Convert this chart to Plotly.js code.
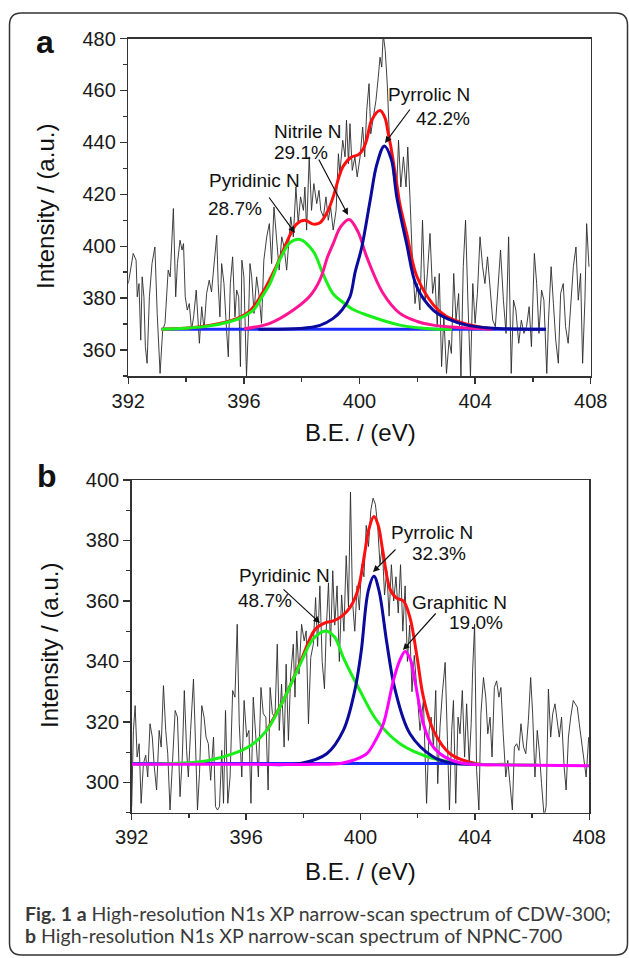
<!DOCTYPE html>
<html>
<head>
<meta charset="utf-8">
<script src="https://cdn.plot.ly/plotly-3.0.1.min.js"></script>
<style>
html,body{margin:0;padding:0;background:#fff;}
#chart{width:629px;height:958px;}
</style>
</head>
<body>
<div id="chart"></div>
<script>
// ---------- Tick labels ----------
const xTickVals = [392, 396, 400, 404, 408];
const yTickValsA = [360, 380, 400, 420, 440, 460, 480];
const yTickValsB = [300, 320, 340, 360, 380, 400];

// ---------- Panel a : raw spectrum ----------
const aNoiseX = [392.00,392.17,392.27,392.31,392.37,392.43,392.48,392.54,392.59,392.65,392.73,392.82,392.92,393.00,393.10,393.19,393.27,393.38,393.45,393.56,393.64,393.70,393.79,393.86,393.91,393.97,394.04,394.11,394.19,394.26,394.35,394.46,394.54,394.62,394.71,394.80,394.88,394.96,395.06,395.11,395.17,395.23,395.31,395.40,395.46,395.53,395.61,395.69,395.75,395.82,395.88,395.93,396.00,396.09,396.15,396.21,396.27,396.35,396.44,396.53,396.61,396.69,396.79,396.88,396.96,397.04,397.13,397.22,397.31,397.39,397.48,397.54,397.62,397.71,397.80,397.88,397.96,398.06,398.11,398.17,398.26,398.34,398.42,398.52,398.60,398.66,398.75,398.84,398.92,399.00,399.09,399.19,399.27,399.32,399.42,399.50,399.55,399.62,399.67,399.75,399.84,399.92,400.02,400.11,400.18,400.25,400.33,400.39,400.48,400.57,400.65,400.71,400.77,400.82,400.89,400.96,401.03,401.11,401.19,401.28,401.35,401.43,401.52,401.61,401.67,401.75,401.83,401.92,402.00,402.09,402.18,402.27,402.35,402.44,402.53,402.61,402.69,402.76,402.84,402.92,403.01,403.10,403.18,403.26,403.34,403.43,403.51,403.59,403.67,403.75,403.84,403.92,404.00,404.08,404.17,404.26,404.34,404.43,404.51,404.61,404.70,404.79,404.88,404.98,405.07,405.16,405.25,405.33,405.41,405.51,405.60,405.69,405.78,405.87,405.95,406.05,406.13,406.21,406.30,406.38,406.48,406.54,406.63,406.71,406.79,406.88,406.96,407.05,407.13,407.22,407.30,407.40,407.49,407.57,407.65,407.72,407.80,407.86,407.94];
const aNoiseY = [385.6,397.2,394.6,380.5,385.6,363.8,388.2,380.5,361.3,354.9,380.5,393.3,399.7,374.1,351.0,367.7,370.3,390.8,388.2,414.5,380.5,393.3,402.3,398.5,401.0,380.5,375.4,377.9,367.7,372.8,383.1,362.6,376.7,367.7,381.8,386.9,382.4,393.3,404.2,385.6,372.8,393.3,385.6,367.7,357.4,385.6,395.9,372.8,383.1,380.5,353.6,394.6,388.2,350.0,367.7,393.3,388.2,374.1,388.2,380.5,370.3,394.6,403.6,408.7,393.3,415.1,401.0,390.8,403.6,399.7,390.8,401.0,411.3,403.6,422.8,408.7,419.0,413.8,422.8,406.2,434.4,413.8,424.1,416.4,421.5,413.8,411.3,419.0,410.0,415.1,406.2,413.8,435.6,427.9,440.8,434.4,448.5,431.8,447.2,429.2,434.4,426.7,434.4,445.9,434.4,452.3,462.6,443.3,449.7,456.2,465.1,472.8,469.0,481.8,475.4,462.6,443.3,435.6,425.4,420.3,440.8,422.8,434.4,422.8,438.2,417.7,394.6,377.9,385.6,375.4,410.0,379.2,389.5,404.9,381.8,388.2,369.0,389.5,353.6,372.8,351.0,363.8,358.7,389.5,371.5,381.8,350.0,392.1,410.0,379.2,350.0,385.6,370.3,381.8,403.6,392.1,385.6,395.9,384.4,371.5,369.0,384.4,398.5,379.2,366.4,403.6,351.0,379.2,375.4,362.6,371.5,366.4,369.0,376.7,361.3,397.2,385.6,366.4,383.1,379.2,351.0,371.5,392.1,377.9,363.8,354.9,381.8,385.6,369.0,362.6,375.4,392.1,399.7,379.2,389.5,354.9,379.2,408.7,392.1];

// ---------- Panel a : fitted components ----------
const aBaseX = [393.15, 406.45];
const aBaseY = [368.0, 368.0];
const aPyridX = [393.15,394.0,394.8,395.5,396.0,396.33,396.6,396.9,397.25,397.6,397.94,398.4,398.75,399.1,399.44,399.8,400.25,401.4,402.55,403.2];
const aPyridY = [368.0,368.4,369.3,370.9,373.0,375.4,380.0,385.6,395.0,401.4,402.6,398.0,389.0,381.5,378.3,375.5,373.5,369.6,368.1,368.0];
const aNitrX = [396.0,396.9,397.71,398.3,398.63,398.9,399.09,399.35,399.64,399.95,400.25,400.82,401.4,402.0,402.55,403.2,403.94,404.6];
const aNitrY = [368.2,370.3,375.4,381.0,387.0,396.0,401.0,407.5,410.3,405.5,395.9,381.8,374.1,371.0,369.6,368.9,368.4,368.0];
const aPyrrX = [396.5,397.94,398.63,399.09,399.4,399.67,399.85,400.08,400.37,400.6,400.86,401.1,401.29,401.63,401.98,402.55,403.1,403.71,404.5,405.5,406.45];
const aPyrrY = [368.0,368.3,369.5,372.2,375.5,380.5,390.0,399.7,417.7,431.5,438.6,433.5,419.0,401.0,384.4,375.4,371.8,369.6,368.5,368.1,368.0];
const aSumX = [393.15,394.5,395.6,396.2,396.67,397.13,397.48,397.82,398.11,398.4,398.63,398.9,399.09,399.42,399.7,399.98,400.13,400.25,400.42,400.71,400.88,401.0,401.09,401.29,401.4,401.63,401.98,402.55,403.0,403.71,404.6];
const aSumY = [368.0,369.0,371.5,375.0,382.5,392.5,401.5,408.5,410.0,408.5,409.0,413.5,419.0,430.5,434.2,435.3,437.5,441.0,448.5,452.3,449.5,443.0,438.0,424.0,416.0,405.0,388.5,377.5,373.0,370.0,368.2];

// ---------- Panel b : raw spectrum ----------
const bNoiseX = [392.00,392.06,392.12,392.19,392.26,392.33,392.41,392.49,392.56,392.64,392.72,392.79,392.87,392.96,393.03,393.11,393.19,393.26,393.34,393.42,393.52,393.60,393.69,393.77,393.84,393.92,393.98,394.06,394.16,394.21,394.30,394.37,394.45,394.53,394.60,394.68,394.76,394.86,394.93,395.00,395.07,395.15,395.21,395.28,395.36,395.44,395.53,395.61,395.69,395.76,395.85,395.93,396.02,396.10,396.17,396.25,396.34,396.43,396.52,396.60,396.69,396.77,396.84,396.92,397.01,397.09,397.16,397.24,397.33,397.40,397.48,397.56,397.65,397.71,397.77,397.85,397.94,398.03,398.10,398.18,398.26,398.35,398.43,398.50,398.58,398.66,398.74,398.80,398.88,398.95,399.03,399.10,399.18,399.26,399.34,399.42,399.50,399.58,399.65,399.72,399.80,399.88,399.96,400.04,400.12,400.20,400.28,400.36,400.44,400.52,400.60,400.68,400.76,400.84,400.92,401.00,401.08,401.16,401.24,401.32,401.40,401.48,401.56,401.64,401.72,401.80,401.88,401.96,402.08,402.20,402.31,402.40,402.47,402.55,402.63,402.70,402.78,402.86,402.96,403.04,403.11,403.19,403.25,403.33,403.41,403.48,403.56,403.64,403.71,403.80,403.87,403.92,403.99,404.06,404.14,404.21,404.30,404.38,404.45,404.53,404.60,404.68,404.76,404.84,404.91,404.99,405.08,405.15,405.23,405.31,405.38,405.46,405.54,405.61,405.70,405.78,405.87,405.95,406.02,406.10,406.18,406.25,406.33,406.42,406.49,406.57,406.65,406.72,406.80,406.88,406.95,407.03,407.12,407.19,407.27,407.35,407.44,407.51,407.58,407.65,407.73,407.82,407.89,407.98];
const bNoiseY = [292.0,317.2,325.4,308.4,312.8,293.1,306.2,309.0,301.8,319.4,315.0,305.1,297.5,317.2,311.7,332.0,317.2,309.5,290.9,306.2,323.8,321.6,295.3,308.4,330.4,310.6,301.8,317.2,334.2,319.4,290.9,302.9,325.4,321.6,315.0,312.8,300.7,315.0,292.0,290.9,292.0,310.6,293.1,323.8,293.1,301.8,330.4,328.2,352.3,319.4,301.8,327.1,315.0,317.2,293.1,328.2,312.8,301.8,331.4,322.7,321.6,297.5,331.4,322.7,321.6,345.7,317.2,332.5,311.7,339.1,313.9,335.8,345.7,328.2,350.1,335.8,352.3,346.8,350.1,319.4,341.3,345.7,361.1,345.0,365.0,340.0,331.0,350.0,366.0,345.0,370.0,352.0,365.0,340.0,362.0,350.0,375.0,358.0,396.0,360.0,350.0,365.0,357.0,372.0,368.0,385.0,378.0,390.0,394.0,392.0,385.0,372.0,378.0,362.0,370.0,355.0,372.0,360.0,368.0,356.0,372.0,350.0,365.0,340.0,352.0,330.0,342.0,332.5,317.2,327.1,293.1,317.2,321.6,311.7,330.4,299.6,318.3,329.3,339.7,313.9,290.9,317.2,327.1,293.1,321.6,316.1,330.4,308.4,326.0,306.2,319.4,336.9,352.3,304.0,290.9,322.7,334.7,328.2,316.1,321.6,308.4,331.4,333.6,328.2,331.4,316.1,301.8,307.3,297.5,290.9,311.7,312.8,310.6,319.4,311.7,309.5,320.5,334.7,322.7,301.8,317.2,310.6,299.6,288.7,292.0,330.9,315.0,322.7,326.0,319.4,315.0,321.6,305.1,297.5,315.0,321.6,327.1,326.0,324.9,319.4,313.9,308.4,301.8,315.0];

// ---------- Panel b : fitted components ----------
const bBaseX = [392.0, 403.5];
const bBaseY = [306.3, 306.3];
const bPyridX = [392.0,393.2,394.6,395.55,396.2,396.72,397.3,397.89,398.35,398.8,399.1,399.4,399.98,400.57,401.38,402.55,403.71,405.0,406.2];
const bPyridY = [306.0,306.2,307.1,309.5,312.5,317.2,327.1,339.1,347.5,350.1,348.0,341.3,330.4,320.5,312.8,307.9,306.2,305.9,305.8];
const bPyrrX = [396.5,397.9,398.82,399.4,399.8,400.02,400.27,400.47,400.65,400.91,401.2,401.73,402.55,403.13,404.0];
const bPyrrY = [306.0,306.3,309.5,317.2,330.4,343.0,363.3,368.2,363.3,346.8,331.0,316.1,308.4,306.5,306.0];
const bGraphX = [392.0,396.0,398.5,399.3,399.8,400.22,400.5,400.8,401.15,401.38,401.56,401.75,401.9,402.2,402.45,402.78,403.2,403.75,405.0,408.0];
const bGraphY = [306.0,306.0,306.0,306.3,307.5,309.5,313.5,319.4,333.7,340.5,343.3,340.5,333.7,319.4,313.0,309.5,307.3,306.1,305.8,305.5];
const bSumX = [396.72,397.3,397.89,398.41,398.76,399.05,399.35,399.63,399.85,399.98,400.15,400.3,400.47,400.62,400.78,401.03,401.25,401.5,401.73,401.98,402.2,402.55,403.13,404.06,405.0];
const bSumY = [317.2,327.1,339.6,350.6,352.8,353.4,355.0,357.8,362.0,366.5,376.0,384.0,387.9,385.0,376.5,364.0,361.0,360.0,354.5,341.3,328.2,317.2,309.5,306.2,306.0];

// ---------- Peak labels ----------
const aLabels = ["Pyridinic N", "28.7%", "Nitrile N", "29.1%", "Pyrrolic N", "42.2%"];
const bLabels = ["Pyridinic N", "48.7%", "Pyrrolic N", "32.3%", "Graphitic N", "19.0%"];
const captionLine1 = "<b>Fig. 1 a</b> High-resolution N1s XP narrow-scan spectrum of CDW-300;";
const captionLine2 = "<b>b</b> High-resolution N1s XP narrow-scan spectrum of NPNC-700";

// ---------- Styling helpers ----------
const W = 629, H = 958;
const px = v => v / W;
const py = v => 1 - v / H;
const FONT = "Liberation Sans, Arial, Helvetica, sans-serif";
const CAPFONT = "Lato, Open Sans, sans-serif";
const RED = "#ff1010", GREEN = "#19f019", PINK = "#ff1493", NAVY = "#0a0a9c", BLUE = "#1a2bff", MAG = "#ff00ff";

function line(x, y, color, width, xa, ya, spline) {
  return {x: x, y: y, type: "scatter", mode: "lines", xaxis: xa, yaxis: ya, hoverinfo: "skip",
          line: {color: color, width: width, shape: spline ? "spline" : "linear", smoothing: 1}};
}

const traces = [
  line(aNoiseX, aNoiseY, "#2a2a2a", 0.9, "x", "y", false),
  line(aBaseX, aBaseY, BLUE, 3, "x", "y", false),
  line(aSumX, aSumY, RED, 3, "x", "y", true),
  line(aPyridX, aPyridY, GREEN, 3, "x", "y", true),
  line(aNitrX, aNitrY, PINK, 3, "x", "y", true),
  line(aPyrrX, aPyrrY, NAVY, 3, "x", "y", true),
  line(bNoiseX, bNoiseY, "#2a2a2a", 0.9, "x2", "y2", false),
  line(bBaseX, bBaseY, BLUE, 3, "x2", "y2", false),
  line(bSumX, bSumY, RED, 3, "x2", "y2", true),
  line(bPyridX, bPyridY, GREEN, 3, "x2", "y2", true),
  line(bPyrrX, bPyrrY, NAVY, 3, "x2", "y2", true),
  line(bGraphX, bGraphY, MAG, 3, "x2", "y2", true)
];

function xAxis(dom, anchor) {
  return {domain: dom, anchor: anchor, range: [392, 408], tickvals: xTickVals,
    ticks: "outside", ticklen: 6, tickwidth: 1.3, tickcolor: "#333",
    minor: {dtick: 2, tick0: 392, ticks: "outside", ticklen: 4, tickwidth: 1.3, tickcolor: "#333"},
    showline: true, linecolor: "#333", linewidth: 1.5, mirror: true,
    showgrid: false, zeroline: false, tickfont: {family: FONT, size: 20, color: "#1a1a1a"}};
}
function yAxis(dom, anchor, rng, vals) {
  return {domain: dom, anchor: anchor, range: rng, tickvals: vals,
    ticks: "outside", ticklen: 7, tickwidth: 1.3, tickcolor: "#333",
    minor: {dtick: 10, tick0: 300, ticks: "outside", ticklen: 4, tickwidth: 1.3, tickcolor: "#333"},
    showline: true, linecolor: "#333", linewidth: 1.5, mirror: true,
    showgrid: false, zeroline: false, tickfont: {family: FONT, size: 20, color: "#1a1a1a"}};
}

function txt(t, xp, yp, size, opts) {
  return Object.assign({text: t, x: px(xp), y: py(yp), xref: "paper", yref: "paper", showarrow: false,
    xanchor: "left", yanchor: "middle", font: {family: FONT, size: size, color: "#111"}}, opts || {});
}
function arrow(tipX, tipY, tailX, tailY) {
  return {text: "", x: px(tipX), y: py(tipY), xref: "paper", yref: "paper", showarrow: true,
    ax: tailX - tipX, ay: tailY - tipY, axref: "pixel", ayref: "pixel",
    arrowhead: 2, arrowsize: 1.1, arrowwidth: 1.2, arrowcolor: "#111", standoff: 0, startstandoff: 0};
}

const annotations = [
  // panel letters
  txt("<b>a</b>", 45, 42, 32, {xanchor: "center"}),
  txt("<b>b</b>", 47, 476, 32, {xanchor: "center"}),
  // axis titles
  txt("Intensity / (a.u.)", 45, 207, 24, {xanchor: "center", textangle: -90}),
  txt("Intensity / (a.u.)", 49, 646, 24, {xanchor: "center", textangle: -90}),
  txt("B.E. / (eV)", 360, 433, 24, {xanchor: "center"}),
  txt("B.E. / (eV)", 360, 871, 24, {xanchor: "center"}),
  // panel a labels
  txt(aLabels[0], 207, 180, 19), txt(aLabels[1], 206, 208, 19),
  txt(aLabels[2], 272, 131, 19), txt(aLabels[3], 272, 152, 19),
  txt(aLabels[4], 386, 95, 19), txt(aLabels[5], 414, 118, 19),
  arrow(295, 233, 268, 196), arrow(348, 215, 318, 158), arrow(385, 143, 411, 108),
  // panel b labels
  txt(bLabels[0], 237, 575, 19), txt(bLabels[1], 236, 600, 19),
  txt(bLabels[2], 389, 532, 19), txt(bLabels[3], 410, 553, 19),
  txt(bLabels[4], 410, 602, 19), txt(bLabels[5], 447, 622, 19),
  arrow(320, 623, 282, 588), arrow(373, 572, 397, 548), arrow(403, 650, 437, 612),
  // caption
  txt(captionLine1, 23, 913, 19.5, {font: {family: CAPFONT, size: 19.5, color: "#3a3a3a"}}),
  txt(captionLine2, 23, 935, 19.5, {font: {family: CAPFONT, size: 19.5, color: "#3a3a3a"}})
];

// rounded frame
const fx0 = 9.5, fx1 = 627.5, fy0 = 13, fy1 = 955, r = 12;
const framePath = "M " + px(fx0 + r) + " " + py(fy0) +
  " L " + px(fx1 - r) + " " + py(fy0) +
  " Q " + px(fx1) + " " + py(fy0) + " " + px(fx1) + " " + py(fy0 + r) +
  " L " + px(fx1) + " " + py(fy1 - r) +
  " Q " + px(fx1) + " " + py(fy1) + " " + px(fx1 - r) + " " + py(fy1) +
  " L " + px(fx0 + r) + " " + py(fy1) +
  " Q " + px(fx0) + " " + py(fy1) + " " + px(fx0) + " " + py(fy1 - r) +
  " L " + px(fx0) + " " + py(fy0 + r) +
  " Q " + px(fx0) + " " + py(fy0) + " " + px(fx0 + r) + " " + py(fy0) + " Z";

const layout = {
  width: W, height: H, margin: {l: 0, r: 0, t: 0, b: 0},
  paper_bgcolor: "#ffffff", plot_bgcolor: "#ffffff", showlegend: false,
  xaxis: xAxis([px(128.3), px(590.7)], "y"),
  yaxis: yAxis([py(376), py(38.5)], "x", [350, 480], yTickValsA),
  xaxis2: xAxis([px(131.7), px(589.3)], "y2"),
  yaxis2: yAxis([py(812.7), py(480)], "x2", [290, 400], yTickValsB),
  annotations: annotations,
  shapes: [{type: "path", path: framePath, xref: "paper", yref: "paper",
            line: {color: "#333", width: 1.5}, fillcolor: "rgba(0,0,0,0)", layer: "below"}]
};

Plotly.newPlot("chart", traces, layout, {staticPlot: true, displayModeBar: false});
</script>
</body>
</html>
